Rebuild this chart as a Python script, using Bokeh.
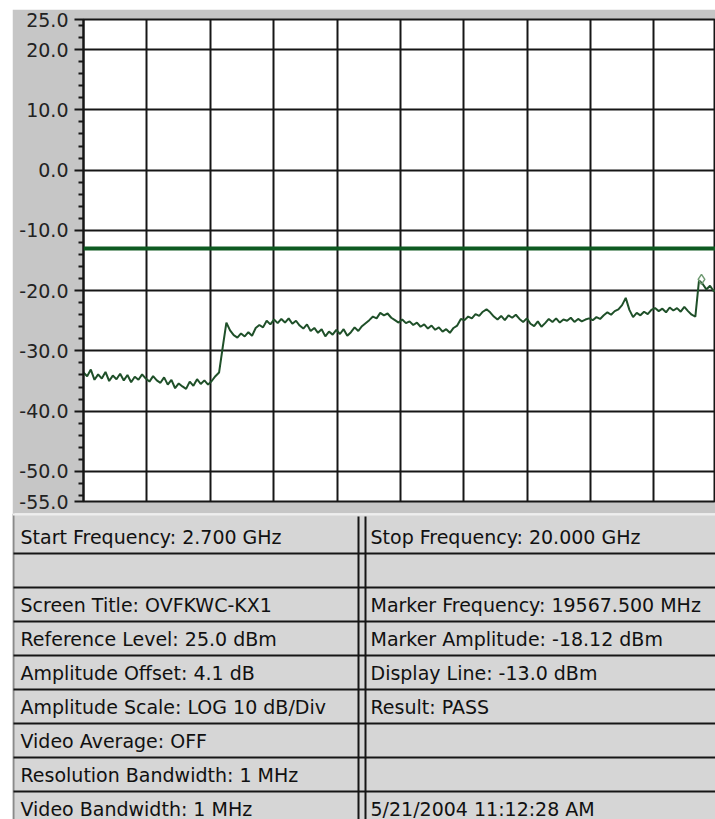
import numpy as np
from bokeh.plotting import figure
from bokeh.models import Range1d, FixedTicker, NumeralTickFormatter, Span, ColumnDataSource
from bokeh.layouts import column
from bokeh.core.properties import value
from bokeh.embed import file_html
from bokeh.resources import INLINE

# ---------------- data ----------------
START_GHZ = 2.7
STOP_GHZ = 20.0
VIEW_END_GHZ = 19.95          # the right edge of the screen shot cuts the last division
REF_LEVEL_DBM = 25.0
BOTTOM_LEVEL_DBM = -55.0
DISPLAY_LINE_DBM = -13.0
MARKER_GHZ = 19.5675
MARKER_DBM = -18.12
X_DIVISIONS = 10

# measured trace (dBm), one value per 0.1 GHz from 2.7 to 20.0 GHz
trace_dbm = [
    -33.6, -34.2, -33.1, -34.8, -33.9, -34.6, -33.5, -35.0, -34.1, -34.7,
    -33.8, -34.9, -34.0, -35.2, -34.3, -34.8, -33.9, -34.6, -35.1, -34.2,
    -34.9, -35.3, -34.4, -35.6, -34.8, -36.2, -35.4, -35.9, -36.3, -35.1,
    -35.8, -34.7, -35.5, -34.9, -35.6, -35.0, -34.2, -33.6,
    -29.4,
    -25.3, -26.6, -27.4, -27.8, -27.1, -27.6, -26.9, -27.5, -26.2, -25.7,
    -26.1, -25.0, -25.6, -24.8, -25.4, -24.7, -25.3, -24.6, -25.5, -25.0,
    -25.8, -26.3, -25.6, -26.7, -26.2, -27.0, -26.4, -27.6, -26.8, -27.3,
    -26.5, -27.2, -26.4, -27.5, -26.9, -26.1, -26.7, -25.9, -25.4, -24.9,
    -24.3, -24.6, -23.7, -24.1, -23.8, -24.5, -24.9, -25.3, -24.8, -25.4,
    -25.1, -25.7, -25.3, -26.0, -25.6, -26.3, -25.8, -26.5, -26.1, -26.8,
    -26.4, -27.0, -26.2, -25.8, -24.7, -24.9, -24.3, -24.6, -23.9, -24.2,
    -23.5, -23.1, -23.6, -24.3, -24.8, -24.2, -24.9, -24.1, -24.5, -24.0,
    -24.7, -25.2, -24.6, -25.5, -25.9, -25.1, -26.0, -25.4, -24.7, -25.2,
    -24.6, -25.3, -24.8, -25.0, -24.5, -25.2, -24.7, -25.1, -24.8, -24.6,
    -24.9, -24.4, -24.7, -24.1, -23.6, -24.0, -23.4, -23.1, -22.4, -21.2,
    -23.2, -24.4, -23.7, -24.1, -23.5, -23.9, -23.2, -22.9, -23.4, -23.0,
    -23.6, -22.8, -23.3, -22.9, -23.5, -22.7, -23.4, -24.0, -24.3, -18.3,
    -18.9, -19.8, -19.2, -20.1, -19.7,
]
freq_ghz = np.linspace(START_GHZ, STOP_GHZ, len(trace_dbm))

y_major_ticks = [25, 20, 10, 0, -10, -20, -30, -40, -50, -55]
y_minor_ticks = [24, 22, 18, 16, 14, 12, 8, 6, 4, 2, -2, -4, -6, -8,
                 -12, -14, -16, -18, -22, -24, -26, -28, -32, -34, -36, -38,
                 -42, -44, -46, -48, -52, -54]
x_grid_ticks = [START_GHZ + k * (STOP_GHZ - START_GHZ) / X_DIVISIONS for k in range(X_DIVISIONS + 1)]

left_cells = [
    "Start Frequency: 2.700 GHz",
    "",
    "Screen Title: OVFKWC-KX1",
    "Reference Level: 25.0 dBm",
    "Amplitude Offset: 4.1 dB",
    "Amplitude Scale: LOG 10 dB/Div",
    "Video Average: OFF",
    "Resolution Bandwidth: 1 MHz",
    "Video Bandwidth: 1 MHz",
]
right_cells = [
    "Stop Frequency: 20.000 GHz",
    "",
    "Marker Frequency: 19567.500 MHz",
    "Marker Amplitude: -18.12 dBm",
    "Display Line: -13.0 dBm",
    "Result:  PASS",
    "",
    "",
    "5/21/2004 11:12:28 AM",
]

# ---------------- styles / layout ----------------
PANEL_GRAY = "#c6c6c6"
TABLE_GRAY = "#d6d6d6"
LINE_DARK = "#161616"
TRACE_GREEN = "#1f5029"
DISPLAY_GREEN = "#0e5a21"
FONT = "DejaVu Sans"
W = 703

# ---------------- spectrum plot ----------------
p = figure(width=W, height=504,
           x_range=Range1d(START_GHZ, VIEW_END_GHZ),
           y_range=Range1d(BOTTOM_LEVEL_DBM, REF_LEVEL_DBM),
           output_backend="svg", toolbar_location=None,
           x_axis_location=None,
           min_border_left=71, min_border_right=0,
           min_border_top=10, min_border_bottom=12)
p.frame_align = False
p.border_fill_color = PANEL_GRAY
p.background_fill_color = "white"
p.outline_line_color = LINE_DARK
p.outline_line_width = 2

p.xgrid.ticker = FixedTicker(ticks=x_grid_ticks)
p.ygrid.ticker = FixedTicker(ticks=y_major_ticks)
for g in (p.xgrid, p.ygrid):
    g.grid_line_color = LINE_DARK
    g.grid_line_width = 2

ax = p.yaxis[0]
ax.ticker = FixedTicker(ticks=y_major_ticks, minor_ticks=y_minor_ticks)
ax.formatter = NumeralTickFormatter(format="0.0")
ax.axis_line_color = LINE_DARK
ax.axis_line_width = 2
ax.major_tick_line_color = LINE_DARK
ax.major_tick_line_width = 2
ax.major_tick_out = 9
ax.major_tick_in = 0
ax.minor_tick_line_color = LINE_DARK
ax.minor_tick_line_width = 2
ax.minor_tick_out = 5
ax.minor_tick_in = 0
ax.major_label_standoff = 6
ax.major_label_text_font = FONT
ax.major_label_text_font_size = "19px"
ax.major_label_text_color = "#222222"

p.add_layout(Span(location=DISPLAY_LINE_DBM, dimension="width",
                  line_color=DISPLAY_GREEN, line_width=4))
p.line(freq_ghz, trace_dbm, line_color=TRACE_GREEN, line_width=2)
p.scatter([MARKER_GHZ], [MARKER_DBM], marker="diamond", size=10,
          fill_color=None, line_color="#6f9a72", line_width=1.5)

# ---------------- info table ----------------
TH = 306
t = figure(width=W, height=TH, x_range=Range1d(0, W), y_range=Range1d(TH, 0),
           output_backend="svg", toolbar_location=None,
           x_axis_location=None, y_axis_location=None,
           min_border_left=0, min_border_right=0, min_border_top=0, min_border_bottom=0)
t.frame_align = False
t.grid.visible = False
t.outline_line_color = None
t.background_fill_color = TABLE_GRAY
t.border_fill_color = TABLE_GRAY

n_rows = len(left_cells)
first_sep = 40.0
row_h = 34.0
left_edge = 1
col_line_a = 346
col_line_b = 353
text_left_x = 8
text_right_x = 358

sep_y = [first_sep + row_h * k for k in range(n_rows - 1)]
centers = [first_sep / 2 + 3] + [first_sep + row_h * (i - 1) + row_h / 2 for i in range(1, n_rows)]

t.segment(x0=[left_edge], y0=[0], x1=[left_edge], y1=[TH], line_color="#8a8a8a", line_width=2)
t.segment(x0=[0], y0=[1], x1=[W], y1=[1], line_color="#eeeeee", line_width=2)
t.segment(x0=[left_edge] * len(sep_y), y0=sep_y, x1=[W] * len(sep_y), y1=sep_y,
          line_color=LINE_DARK, line_width=2)
t.segment(x0=[col_line_a, col_line_b], y0=[3, 3], x1=[col_line_a, col_line_b], y1=[TH, TH],
          line_color=LINE_DARK, line_width=2)

src = ColumnDataSource(dict(
    x=[text_left_x] * n_rows + [text_right_x] * n_rows,
    y=centers + centers,
    txt=left_cells + right_cells,
))
t.text(x="x", y="y", text="txt", source=src,
       text_font=value(FONT), text_font_size=value("19px"),
       text_color="#111111", text_align="left", text_baseline="middle")

layout = column(p, t, spacing=0, margin=(9, 0, 0, 12))
open("out.html", "w").write(file_html(layout, INLINE))
